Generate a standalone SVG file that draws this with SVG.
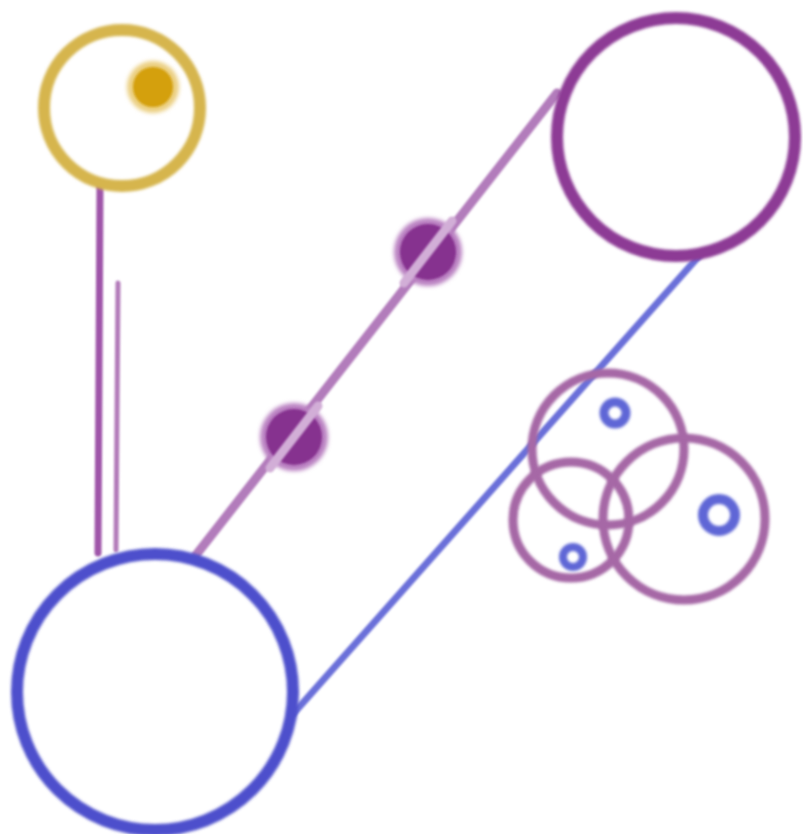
<svg xmlns="http://www.w3.org/2000/svg" width="803" height="834" viewBox="0 0 803 834">
  <defs>
    <filter id="soft" filterUnits="userSpaceOnUse" x="0" y="0" width="803" height="834">
      <feGaussianBlur stdDeviation="1.4"/>
    </filter>
    <filter id="thin" filterUnits="userSpaceOnUse" x="0" y="0" width="803" height="834">
      <feGaussianBlur stdDeviation="0.8"/>
    </filter>
    <filter id="halo" filterUnits="userSpaceOnUse" x="0" y="0" width="803" height="834">
      <feGaussianBlur stdDeviation="2"/>
    </filter>
  </defs>
  <style>
    .ring { fill: none; filter: url(#soft); }
    .gold { stroke: #d6b54e; stroke-width: 12; }
    .purple { stroke: #8d3a95; stroke-width: 12; }
    .blue { stroke: #4d50cc; stroke-width: 12; }
    .mauve { stroke: #a668a6; stroke-width: 9; }
    .bluedot { fill: none; stroke: #5f66d6; filter: url(#soft); }
    .link { fill: none; stroke-linecap: round; filter: url(#thin); }
  </style>
  <rect width="803" height="834" fill="#ffffff"/>

  <g id="connectors">
    <line class="link" x1="100" y1="186" x2="98" y2="553" stroke="#9f55a9" stroke-width="7"/>
    <line class="link" x1="118" y1="283" x2="116" y2="550" stroke="#b27ab9" stroke-width="5"/>
    <line class="link" x1="196" y1="555" x2="557" y2="93" stroke="#b27cbb" stroke-width="9"/>
    <line class="link" x1="293" y1="714" x2="699" y2="256" stroke="#6a6fd9" stroke-width="7"/>
  </g>

  <g id="node-gold">
    <circle class="ring gold" cx="122" cy="108" r="78"/>
    <circle cx="153" cy="87" r="26" fill="#ebcf80" filter="url(#halo)"/>
    <circle cx="153" cy="87" r="20" fill="#d4a00c" filter="url(#thin)"/>
  </g>

  <g id="node-purple">
    <circle class="ring purple" cx="676" cy="137" r="119"/>
  </g>

  <g id="node-blue">
    <circle class="ring blue" cx="155" cy="692" r="138"/>
  </g>

  <g id="bead-upper">
    <circle cx="428" cy="252" r="34" fill="#b980c1" filter="url(#halo)"/>
    <circle cx="428" cy="252" r="28" fill="#86308f" filter="url(#thin)"/>
    <line class="link" x1="404" y1="283" x2="452" y2="221" stroke="#d2aed7" stroke-width="9"/>
  </g>

  <g id="bead-lower">
    <circle cx="294" cy="437" r="34" fill="#b980c1" filter="url(#halo)"/>
    <circle cx="294" cy="437" r="28" fill="#86308f" filter="url(#thin)"/>
    <line class="link" x1="270" y1="468" x2="318" y2="406" stroke="#d2aed7" stroke-width="9"/>
  </g>

  <g id="cluster">
    <g id="cluster-top">
      <circle class="ring mauve" cx="608" cy="449" r="76"/>
      <circle class="bluedot" cx="615" cy="413" r="11" stroke-width="9"/>
    </g>
    <g id="cluster-left">
      <circle class="ring mauve" cx="571" cy="520" r="58"/>
      <circle class="bluedot" cx="573" cy="557" r="10" stroke-width="8"/>
    </g>
    <g id="cluster-right">
      <circle class="ring mauve" cx="684" cy="519" r="81"/>
      <circle class="bluedot" cx="719" cy="515" r="16" stroke-width="10"/>
    </g>
  </g>
</svg>
